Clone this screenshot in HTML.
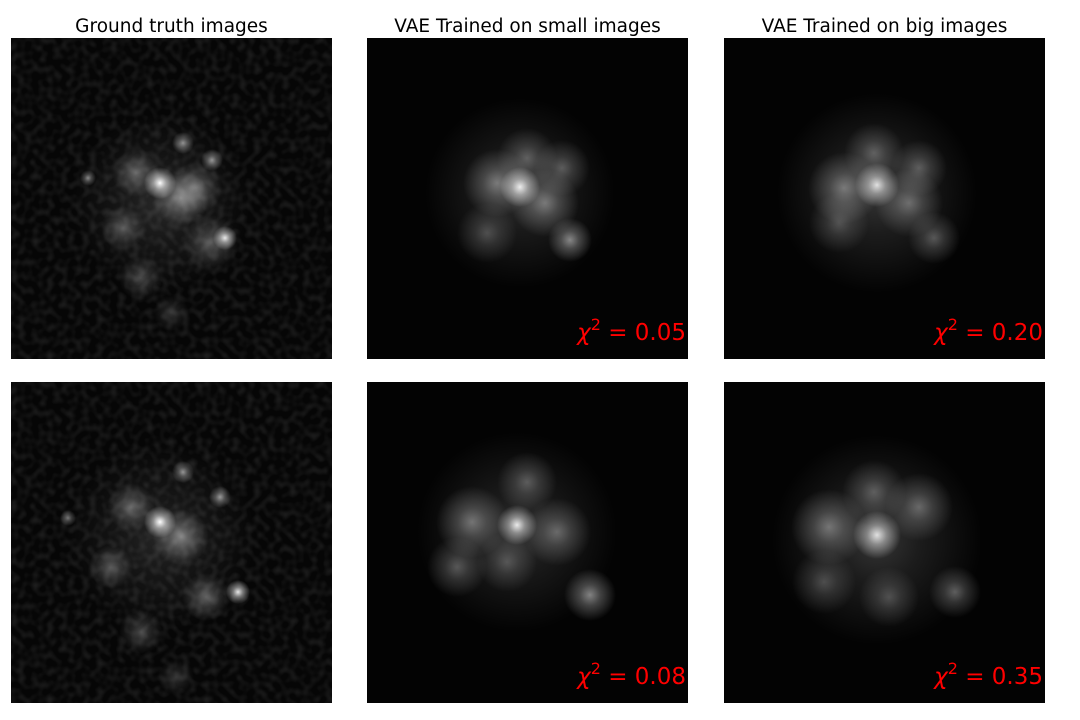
<!DOCTYPE html>
<html><head><meta charset="utf-8"><style>
body{margin:0;background:#fff;width:1080px;height:720px;overflow:hidden}
svg{display:block}
text{font-family:"DejaVu Sans","Liberation Sans",sans-serif}
</style></head><body>
<svg id="fig" width="1080" height="720" xmlns="http://www.w3.org/2000/svg">
<defs>
<radialGradient id="rg"><stop offset="0" stop-color="#fff" stop-opacity="1"/><stop offset="0.4" stop-color="#fff" stop-opacity="0.5"/><stop offset="1" stop-color="#fff" stop-opacity="0"/></radialGradient>
<filter id="noise" x="0" y="0" width="1" height="1"><feTurbulence type="fractalNoise" baseFrequency="0.14" numOctaves="1" seed="3"/><feColorMatrix type="matrix" values="0 0 0 0 1  0 0 0 0 1  0 0 0 0 1  0 0 0 0.22 -0.09"/></filter>
</defs>
</svg>
<script>
const titles=["Ground truth images","VAE Trained on small images","VAE Trained on big images"];
const chiValues=[null,"0.05","0.20",null,"0.08","0.35"];
const colX=[11,367,724];
const rowY=[38,382];
// blobs per panel: [cx, cy, radius, intensity] in panel pixel coords
const blobs0=[[150,165,90,0.14],[149,145,16,1],[172,105,11,0.55],[201,122,11,0.55],[77,140,8,0.5],[214,200,12,0.9],[170,160,28,0.45],[125,135,24,0.35],[112,190,22,0.3],[130,240,22,0.25],[160,275,18,0.18],[185,150,26,0.35],[200,205,28,0.3]];
const blobs1=[[153,155,95,0.18],[153,149,20,0.9],[130,145,34,0.4],[178,165,34,0.4],[203,202,22,0.5],[120,195,30,0.25],[195,130,28,0.3],[160,120,30,0.3]];
const blobs2=[[153,155,100,0.2],[153,147,22,0.85],[120,150,36,0.4],[185,165,34,0.35],[210,200,26,0.3],[115,185,30,0.25],[195,130,28,0.3],[150,115,30,0.3]];
const blobs3=[[150,155,95,0.13],[149,140,16,1],[172,90,11,0.55],[209,115,11,0.55],[57,136,8,0.45],[227,210,12,0.9],[170,155,28,0.45],[120,125,24,0.35],[100,185,22,0.3],[130,250,22,0.25],[165,295,18,0.18],[195,215,24,0.35]];
const blobs4=[[150,150,100,0.18],[150,143,20,0.9],[105,140,36,0.4],[190,150,34,0.35],[223,213,26,0.5],[90,185,30,0.3],[160,100,30,0.3],[140,180,30,0.25]];
const blobs5=[[153,158,105,0.2],[153,153,24,0.85],[105,145,38,0.4],[195,125,34,0.35],[231,210,26,0.35],[100,200,32,0.25],[165,215,30,0.25],[150,110,32,0.3]];
const allBlobs=[blobs0,blobs1,blobs2,blobs3,blobs4,blobs5];
const NS="http://www.w3.org/2000/svg";
const fig=document.getElementById('fig');
const S=321;
function mk(t,a){const e=document.createElementNS(NS,t);for(const k in a)e.setAttribute(k,a[k]);return e;}
titles.forEach((t,i)=>{
 const el=mk('text',{x:colX[i]+S/2,y:32,'text-anchor':'middle','font-size':18.5,fill:'#000'});
 el.textContent=t;
 
 
 fig.appendChild(el);
});
for(let p=0;p<6;p++){
 const r=Math.floor(p/3),c=p%3;
 const g=mk('g',{transform:`translate(${colX[c]},${rowY[r]})`});
 
 
 const cp=mk('clipPath',{id:'cp'+p});cp.appendChild(mk('rect',{x:0,y:0,width:S,height:S}));g.appendChild(cp);
 const inner=mk('g',{'clip-path':`url(#cp${p})`});
 inner.appendChild(mk('rect',{x:0,y:0,width:S,height:S,fill:c===0?'#060606':'#030303'}));
 if(c===0) inner.appendChild(mk('rect',{x:0,y:0,width:S,height:S,filter:'url(#noise)'}));
 allBlobs[p].forEach(b=>{
  const e=mk('circle',{cx:b[0],cy:b[1],r:b[2],fill:'url(#rg)','fill-opacity':b[3]});
  
  
  inner.appendChild(e);
 });
 g.appendChild(inner);
 if(chiValues[p]){
  const tx=mk('text',{x:S-2,y:302,'text-anchor':'end','font-size':23,fill:'#ff0000'});
  tx.innerHTML=`<tspan font-style="italic">χ</tspan><tspan dy="-10" font-size="16">2</tspan><tspan dy="10">=0.</tspan>`;
  tx.innerHTML=`<tspan font-style="italic">χ</tspan><tspan dy="-10" font-size="16">2</tspan><tspan dy="10" xml:space="preserve"> = ${chiValues[p]}</tspan>`;
  
  
  g.appendChild(tx);
 }
 fig.appendChild(g);
}
</script>
</body></html>
